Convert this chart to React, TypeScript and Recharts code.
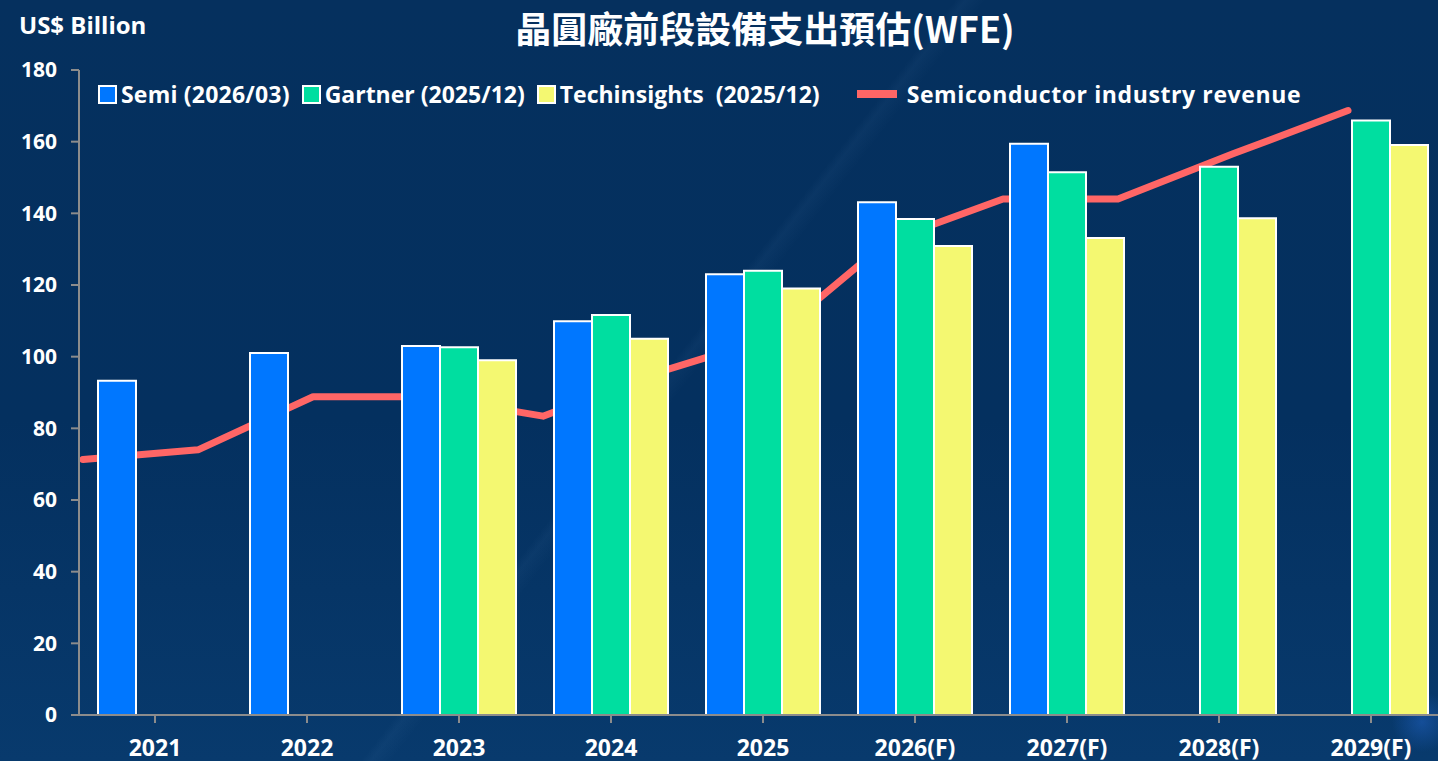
import React from "react";
import {
  ComposedChart,
  Bar,
  Line,
  XAxis,
  YAxis,
  Legend,
} from "recharts";

// categories and series (US$ billion)
const years = ["2021", "2022", "2023", "2024", "2025", "2026(F)", "2027(F)", "2028(F)", "2029(F)"];
const semi = [93.3, 101.0, 103.0, 109.9, 123.0, 143.1, 159.4, null, null];
const gartner = [null, null, 102.6, 111.6, 124.0, 138.4, 151.5, 153.0, 165.9];
const techinsights = [null, null, 99.0, 105.0, 119.0, 130.9, 133.1, 138.6, 159.1];

// semiconductor industry revenue, drawn on its own (hidden) timeline
const revenuePeriods = [0, 1, 2, 3, 4, 5, 6, 7, 8, 9, 10, 11];
const revenue = [71.3, 74.0, 88.8, 88.8, 83.4, 95.6, 105.5, 132.3, 144.0, 144.0, 156.6, 168.7];

const yTicks = [0, 20, 40, 60, 80, 100, 120, 140, 160, 180];

const data = years.map((year, i) => ({
  year,
  semi: semi[i],
  gartner: gartner[i],
  techinsights: techinsights[i],
}));

const revData = revenuePeriods.map((t, i) => ({ t, rev: revenue[i] }));

const FONT = "'Open Sans', 'Noto Sans', sans-serif";
const CJK = "'Noto Sans CJK TC', 'Open Sans', sans-serif";

const legendItems = [
  { label: "Semi (2026/03)", color: "#0077FF", kind: "box", gap: 12, ls: 0.2 },
  { label: "Gartner (2025/12)", color: "#00DEA0", kind: "box", gap: 12, ls: 0 },
  { label: "Techinsights\u00a0 (2025/12)", color: "#F4F871", kind: "box", gap: 37, ls: 0 },
  { label: "Semiconductor industry revenue", color: "#FF6666", kind: "line", gap: 0, ls: 0.6 },
];

const renderLegend = () => (
  <div style={{ display: "flex", alignItems: "center", fontFamily: FONT }}>
    {legendItems.map((it) => (
      <div
        key={it.label}
        style={{ display: "flex", alignItems: "center", marginRight: it.gap }}
      >
        {it.kind === "box" ? (
          <span
            style={{
              display: "inline-block",
              width: 15,
              height: 15,
              background: it.color,
              border: "2px solid #fff",
              marginRight: 4,
            }}
          />
        ) : (
          <span
            style={{
              display: "inline-block",
              width: 40,
              height: 8,
              background: it.color,
              marginRight: 10,
            }}
          />
        )}
        <span
          style={{
            color: "#fff",
            fontWeight: 700,
            fontSize: 23,
            whiteSpace: "pre",
            letterSpacing: it.ls,
          }}
        >
          {it.label}
        </span>
      </div>
    ))}
  </div>
);

const App: React.FC = () => {
  return (
    <div
      style={{
        position: "absolute",
        left: 0,
        top: 0,
        width: 1438,
        height: 761,
        overflow: "hidden",
        background:
          "linear-gradient(128deg, transparent 47%, rgba(140,190,240,0.045) 47.5%, transparent 48.5%)," +
          "radial-gradient(circle at 1422px 722px, rgba(40,110,220,0.4) 0, rgba(40,110,220,0) 30px)," +
          "linear-gradient(180deg, #05305e 0%, #04305f 55%, #083a6d 100%)",
      }}
    >
      <div
        style={{
          position: "absolute",
          left: 19,
          top: 8,
          color: "#fff",
          fontFamily: FONT,
          fontWeight: 700,
          fontSize: 24,
        }}
      >
        US$ Billion
      </div>
      <div
        style={{
          position: "absolute",
          left: 0,
          width: 1530,
          top: 1,
          textAlign: "center",
          color: "#fff",
          fontFamily: CJK,
          fontWeight: 700,
          fontSize: 36,
        }}
      >
        晶圓廠前段設備支出預估(WFE)
      </div>
      <ComposedChart
        width={1470}
        height={761}
        data={data}
        margin={{ top: 70, right: 23, left: 0, bottom: 0 }}
        barCategoryGap="12.5%"
        barGap={0}
      >
        <XAxis
          dataKey="year"
          height={46}
          tickSize={8}
          tickMargin={17}
          axisLine={{ stroke: "#8c8c8c", strokeWidth: 2 }}
          tickLine={{ stroke: "#8c8c8c", strokeWidth: 2 }}
          tick={{ fill: "#fff", fontSize: 23, fontWeight: 700, fontFamily: FONT }}
          interval={0}
        />
        <XAxis
          xAxisId="rev"
          dataKey="t"
          type="number"
          domain={[-0.035, 11.861]}
          allowDataOverflow
          hide
        />
        <YAxis
          width={79}
          domain={[0, 180]}
          ticks={yTicks}
          tickSize={8}
          tickMargin={14}
          axisLine={{ stroke: "#8c8c8c", strokeWidth: 2 }}
          tickLine={{ stroke: "#8c8c8c", strokeWidth: 2 }}
          tick={{ fill: "#fff", fontSize: 21, fontWeight: 700, fontFamily: FONT }}
          interval={0}
        />
        <Legend
          verticalAlign="middle"
          layout="horizontal"
          content={renderLegend}
          wrapperStyle={{ top: 78, left: 98, width: "auto" }}
        />
        <Line
          xAxisId="rev"
          data={revData}
          dataKey="rev"
          type="linear"
          stroke="#FF6666"
          strokeWidth={7}
          strokeLinecap="round"
          strokeLinejoin="round"
          dot={false}
          activeDot={false}
          isAnimationActive={false}
          zIndex={200}
        />
        <Bar dataKey="semi" fill="#0077FF" stroke="#fff" strokeWidth={2} isAnimationActive={false} />
        <Bar dataKey="gartner" fill="#00DEA0" stroke="#fff" strokeWidth={2} isAnimationActive={false} />
        <Bar dataKey="techinsights" fill="#F4F871" stroke="#fff" strokeWidth={2} isAnimationActive={false} />
      </ComposedChart>
    </div>
  );
};

export default App;
